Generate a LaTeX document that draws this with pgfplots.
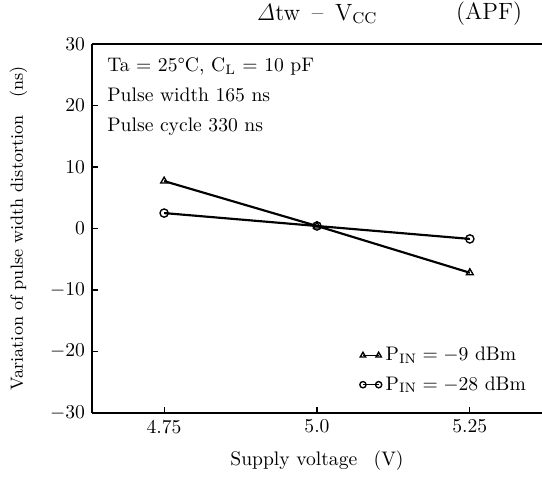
\documentclass[border=0pt]{standalone}
\usepackage{pgfplots}
\pgfplotsset{compat=1.18}
\begin{document}
\begin{tikzpicture}
\useasboundingbox (-46.9pt,-33.15pt) rectangle (229.5pt,210.6pt);
\begin{axis}[
  name=ax,
  at={(0,0)}, anchor=south west,
  scale only axis,
  width=229.5pt, height=188.2pt,
  xmin=4.632, xmax=5.368,
  ymin=-30, ymax=30,
  axis lines*=left,
  axis line style={line width=0.7pt},
  xtick={4.75,5.0,5.25},
  xticklabels={4.75,5.0,5.25},
  ytick={-30,-20,-10,0,10,20,30},
  tick align=inside,
  major tick length=3pt,
  tick style={black, line width=0.6pt},
  xlabel={Supply voltage\enspace\ (V)},
  ylabel={Variation of pulse width distortion\quad(ns)},
  xlabel style={at={(rel axis cs:0.5,0)}, anchor=center, yshift=-24.5pt},
  ylabel style={at={([xshift=-37.5pt]rel axis cs:0,0.5)}, anchor=center, font=\small},
  legend style={at={(rel axis cs:1,0)}, anchor=south east, draw=none, fill=none,
    xshift=-6pt, yshift=8pt, row sep=2.5pt, inner sep=0pt},
  legend cell align=left,
  legend image code/.code={\draw[#1, line width=0.5pt, mark size=1.6pt] plot coordinates {(0pt,0pt) (8pt,0pt)};},
  clip=false,
]
\addplot[black, line width=1.1pt, mark=triangle, mark size=2pt, mark options={solid, line width=0.7pt, fill=white}]
  coordinates {(4.75,7.7) (5.0,0.4) (5.25,-7.2)};
\addlegendentry{$\mathrm{P_{IN}} = -9$ dBm}
\addplot[black, line width=1.1pt, mark=o, mark size=2.1pt, mark options={solid, line width=0.7pt, fill=white}]
  coordinates {(4.75,2.5) (5.0,0.4) (5.25,-1.7)};
\addlegendentry{$\mathrm{P_{IN}} = -28$ dBm}
\draw[line width=0.7pt] (rel axis cs:0,1) -- (rel axis cs:1,1);
\node[anchor=north west, align=left, inner sep=0pt]
  at ([xshift=7.65pt, yshift=-7pt]rel axis cs:0,1)
  {Ta = 25\textdegree C, $\mathrm{C_L}$ = 10 pF\\[3.3pt]
   Pulse width 165 ns\\[3.3pt]
   Pulse cycle 330 ns};
\node[anchor=center, font=\large] at ([yshift=15.3pt]axis cs:5.0,30)
  {$\mathit{\Delta}$tw \,--\, $\mathrm{V_{CC}}$};
\node[anchor=east, font=\large] at ([yshift=15.3pt]rel axis cs:0.971,1) {(APF)};
\end{axis}
\end{tikzpicture}
\end{document}
